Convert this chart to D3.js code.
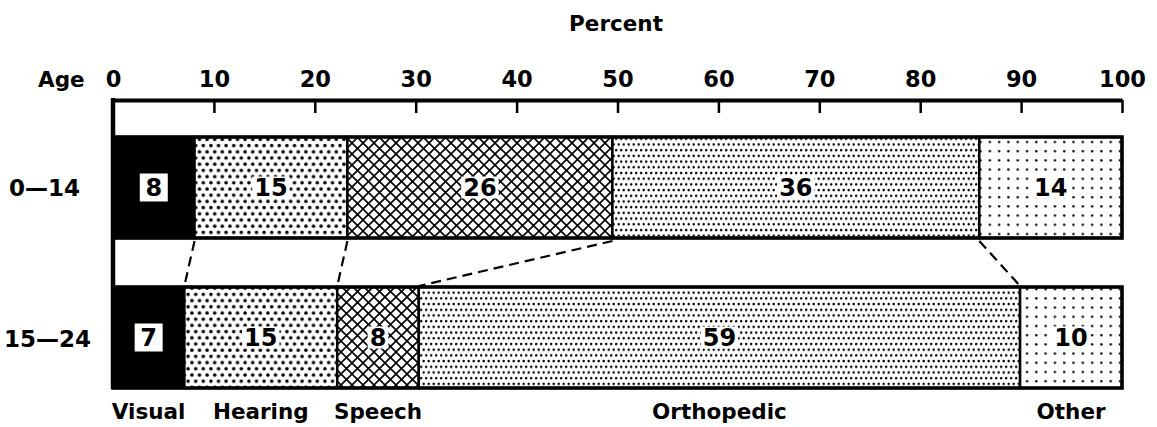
<!DOCTYPE html>
<html>
<head>
<meta charset="utf-8">
<script src="https://cdn.jsdelivr.net/npm/d3@7"></script>
<style>
  body { margin: 0; background: #fff; }
  svg { display: block; font-family: "DejaVu Sans", sans-serif; font-weight: bold; }
</style>
</head>
<body>
<div id="chart"></div>
<script>
// Data
const ageGroups = ["0\u201414", "15\u201424"];
const categories = ["Visual", "Hearing", "Speech", "Orthopedic", "Other"];
const pctAge0to14 = [8, 15, 26, 36, 14];
const pctAge15to24 = [7, 15, 8, 59, 10];
const percentTicks = [0, 10, 20, 30, 40, 50, 60, 70, 80, 90, 100];

const rows = [pctAge0to14, pctAge15to24];
const patterns = ["solid", "bigdots", "cross", "finedots", "sparsedots"];

const width = 1157, height = 427;

const svg = d3.select("#chart")
    .append("svg")
    .attr("width", width)
    .attr("height", height);

const x = d3.scaleLinear().domain([0, 100]).range([113, 1122]);
const y = d3.scaleBand().domain(ageGroups).range([137, 388]).paddingInner(0.3267).paddingOuter(0);

// Fill patterns
const defs = svg.append("defs");

const big = defs.append("pattern").attr("id", "bigdots")
    .attr("patternUnits", "userSpaceOnUse").attr("width", 7.6).attr("height", 12.4);
big.append("rect").attr("width", 7.6).attr("height", 12.4).attr("fill", "#fff");
[[1.9, 3], [5.7, 9.2]].forEach(p => big.append("circle").attr("cx", p[0]).attr("cy", p[1]).attr("r", 1.75).attr("fill", "#000"));

const cross = defs.append("pattern").attr("id", "cross")
    .attr("patternUnits", "userSpaceOnUse").attr("width", 11).attr("height", 11);
cross.append("rect").attr("width", 11).attr("height", 11).attr("fill", "#fff");
cross.append("path").attr("d", "M-1,-1L12,12M12,-1L-1,12")
    .attr("stroke", "#000").attr("stroke-width", 1.6);

const fine = defs.append("pattern").attr("id", "finedots")
    .attr("patternUnits", "userSpaceOnUse").attr("width", 5).attr("height", 11.4);
fine.append("rect").attr("width", 5).attr("height", 11.4).attr("fill", "#fff");
[[1.2, 2], [3.7, 7.7]].forEach(p => fine.append("circle").attr("cx", p[0]).attr("cy", p[1]).attr("r", 1.25).attr("fill", "#000"));

const sparse = defs.append("pattern").attr("id", "sparsedots")
    .attr("patternUnits", "userSpaceOnUse").attr("width", 9.3).attr("height", 9.2);
sparse.append("rect").attr("width", 9.3).attr("height", 9.2).attr("fill", "#fff");
sparse.append("circle").attr("cx", 4).attr("cy", 4).attr("r", 1.2).attr("fill", "#000");

const fillFor = p => p === "solid" ? "#000" : `url(#${p})`;

// cumulative edges scaled to fill 0..100
function edges(vals) {
    const total = d3.sum(vals);
    let acc = 0;
    return vals.map(v => {
        const s = acc / total * 100;
        acc += v;
        return { v: v, x0: s, x1: acc / total * 100 };
    });
}
const rowEdges = rows.map(edges);

// Segments
rowEdges.forEach((segs, r) => {
    const g = svg.append("g");
    const y0 = y(ageGroups[r]);
    const bh = y.bandwidth();

    g.selectAll("rect.seg")
        .data(segs)
        .enter()
        .append("rect")
        .attr("class", "seg")
        .attr("x", d => x(d.x0))
        .attr("y", y0)
        .attr("width", d => x(d.x1) - x(d.x0))
        .attr("height", bh)
        .attr("fill", (d, i) => fillFor(patterns[i]))
        .attr("stroke", "#000")
        .attr("stroke-width", 2.5);

    g.append("rect")
        .attr("x", x(0)).attr("y", y0)
        .attr("width", x(100) - x(0)).attr("height", bh)
        .attr("fill", "none").attr("stroke", "#000").attr("stroke-width", 3.5);

    // value labels with white knock-out boxes
    segs.forEach((d, i) => {
        const cx = (x(d.x0) + x(d.x1)) / 2;
        const cy = y0 + bh / 2;
        const t = g.append("text")
            .attr("x", cx).attr("y", cy + 8.5)
            .attr("text-anchor", "middle")
            .attr("font-size", 24)
            .text(d.v);
        const bb = t.node().getBBox();
        const boxW = i === 0 ? 28 : bb.width + 4;
        const boxH = i === 0 ? 28 : 22;
        g.insert("rect", function() { return t.node(); })
            .attr("x", cx - boxW / 2).attr("y", cy - boxH / 2)
            .attr("width", boxW).attr("height", boxH)
            .attr("fill", "#fff");
    });
});

// Dashed connectors between the two bars
const top0 = y(ageGroups[0]) + y.bandwidth();
const top1 = y(ageGroups[1]);
d3.range(1, categories.length).forEach(i => {
    svg.append("line")
        .attr("x1", x(rowEdges[0][i].x0)).attr("y1", top0 + 3)
        .attr("x2", x(rowEdges[1][i].x0)).attr("y2", top1 - 1)
        .attr("stroke", "#000").attr("stroke-width", 2.2)
        .attr("stroke-dasharray", "10,6");
});

// Top axis
const axis = d3.axisTop(x)
    .tickValues(percentTicks)
    .tickSize(-13)
    .tickSizeOuter(0)
    .tickPadding(13);

const ax = svg.append("g")
    .attr("transform", "translate(0,100)")
    .call(axis);
ax.select(".domain").attr("stroke-width", 4);
ax.selectAll(".tick line").attr("stroke-width", 2.5);
ax.selectAll(".tick text")
    .attr("font-size", 22.5)
    .attr("font-family", "DejaVu Sans, sans-serif")
    .attr("font-weight", "bold")
    .attr("fill", "#000");

// Left frame line
svg.append("line")
    .attr("x1", x(0)).attr("y1", 98)
    .attr("x2", x(0)).attr("y2", 389)
    .attr("stroke", "#000").attr("stroke-width", 4.5);

// Titles
svg.append("text").attr("x", 616).attr("y", 31)
    .attr("text-anchor", "middle").attr("font-size", 21.5).text("Percent");
svg.append("text").attr("x", 38).attr("y", 87)
    .attr("font-size", 21.5).text("Age");

// Row labels
svg.selectAll("text.row")
    .data(ageGroups)
    .enter()
    .append("text")
    .attr("class", "row")
    .attr("x", (d, i) => i === 0 ? 9 : 4)
    .attr("y", d => y(d) + y.bandwidth() / 2 + 9)
    .attr("font-size", 23)
    .text(d => d);

// Category labels under the second bar
svg.selectAll("text.cat")
    .data(categories)
    .enter()
    .append("text")
    .attr("class", "cat")
    .attr("x", (d, i) => (x(rowEdges[1][i].x0) + x(rowEdges[1][i].x1)) / 2)
    .attr("y", 419)
    .attr("text-anchor", "middle")
    .attr("font-size", 21.5)
    .text(d => d);
</script>
</body>
</html>
